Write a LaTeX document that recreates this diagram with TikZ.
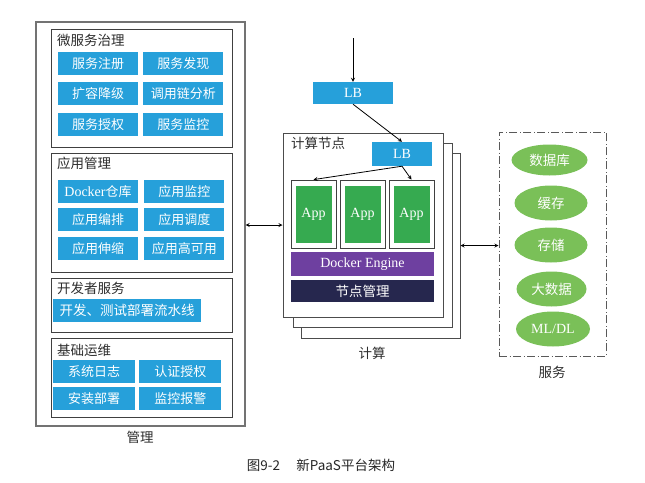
\documentclass[tikz,border=0pt]{standalone}
\usepackage{fontspec}
\setmainfont{Liberation Serif}
\newfontfamily\cjk{Noto Sans CJK SC}
\usepackage{xcolor}
\usetikzlibrary{shapes.geometric, arrows, positioning, calc}
\definecolor{svcblue}{RGB}{38,160,218}
\definecolor{appgreen}{RGB}{54,170,80}
\definecolor{ellgreen}{RGB}{122,192,88}
\definecolor{enginepurple}{RGB}{110,64,160}
\definecolor{nodenavy}{RGB}{38,39,78}
\definecolor{textgray}{RGB}{45,45,45}

\begin{document}
\begin{tikzpicture}[
    x=1pt, y=-1pt,
    panel/.style={rectangle, draw=black!75, line width=0.9pt, fill=white},
    outerbox/.style={rectangle, draw=black!55, line width=1.2pt},
    card/.style={rectangle, draw=black!70, line width=1pt, fill=white},
    title/.style={anchor=west, inner sep=0pt, text=textgray, font=\cjk\fontsize{13.5}{15}\selectfont},
    label/.style={inner sep=0pt, text=textgray, font=\cjk\fontsize{13.5}{15}\selectfont},
    svcbox/.style={rectangle, fill=svcblue, minimum width=80pt, minimum height=23pt, inner sep=0pt, text=white, font=\cjk\fontsize{13}{15}\selectfont},
    latinbox/.style={rectangle, inner sep=0pt, text=white, font=\fontsize{14}{16}\selectfont},
    appframe/.style={rectangle, draw=black!75, line width=0.8pt, fill=white, minimum width=45pt, minimum height=68pt},
    appbox/.style={latinbox, fill=appgreen, minimum width=36pt, minimum height=57pt},
    store/.style={ellipse, fill=ellgreen, minimum width=73pt, minimum height=35pt, inner sep=0pt, text=white, font=\cjk\fontsize{13.5}{15}\selectfont},
    arrow/.style={->, >=stealth, line width=0.8pt},
    dblarrow/.style={<->, >=stealth, line width=0.8pt}
]
\useasboundingbox (0,0) rectangle (645,482);

% 管理
\node[outerbox, minimum width=209pt, minimum height=404pt] (mgmt) at (140.5,224) {};
\node[label] (mgmtlabel) at (140,437) {管理};

\node[panel, minimum width=181pt, minimum height=118pt] (ms) at (141.5,88) {};
\node[title] (mstitle) at (57,40) {微服务治理};
\node[svcbox] (reg) at (98,63.5) {服务注册};
\node[svcbox, right=5pt of reg] (disc) {服务发现};
\node[svcbox, below=7pt of reg] (scale) {扩容降级};
\node[svcbox, right=5pt of scale] (trace) {调用链分析};
\node[svcbox, below=7pt of scale] (auth) {服务授权};
\node[svcbox, right=5pt of auth] (mon) {服务监控};

\node[panel, minimum width=181pt, minimum height=119pt] (apps) at (141.5,212.5) {};
\node[title] (appstitle) at (57,163) {应用管理};
\node[svcbox] (repo) at (98,191.5) {{\rmfamily\fontsize{14}{16}\selectfont Docker}仓库};
\node[svcbox, right=6pt of repo] (appmon) {应用监控};
\node[svcbox, below=5pt of repo] (orch) {应用编排};
\node[svcbox, right=6pt of orch] (sched) {应用调度};
\node[svcbox, below=5pt of orch] (elastic) {应用伸缩};
\node[svcbox, right=6pt of elastic] (ha) {应用高可用};

\node[panel, minimum width=181pt, minimum height=54pt] (dev) at (141.5,305) {};
\node[title] (devtitle) at (57,288) {开发者服务};
\node[svcbox, minimum width=148pt, font=\cjk\fontsize{13.5}{15}\selectfont] (pipe) at (127,310.5) {开发、测试部署流水线};

\node[panel, minimum width=181pt, minimum height=79pt] (ops) at (141.5,377.5) {};
\node[title] (opstitle) at (57,350) {基础运维};
\node[svcbox, minimum width=82pt] (log) at (94,371.5) {系统日志};
\node[svcbox, minimum width=82pt, right=4pt of log] (iam) {认证授权};
\node[svcbox, minimum width=82pt, below=4pt of log] (deploy) {安装部署};
\node[svcbox, minimum width=82pt, right=4pt of deploy] (alarm) {监控报警};

% 计算
\node[card, minimum width=159pt, minimum height=185pt] (card3) at (380.5,245.5) {};
\node[card, minimum width=159pt, minimum height=184pt] (card2) at (372.5,235) {};
\node[card, minimum width=160pt, minimum height=184pt] (card1) at (363,225) {};
\node[title] (cardtitle) at (291,143) {计算节点};
\node[label] (computelabel) at (372,353) {计算};

\coordinate (entry) at (353,38);
\node[latinbox, fill=svcblue, minimum width=80pt, minimum height=22pt] (lb) at (353,93) {LB};
\node[latinbox, fill=svcblue, minimum width=60pt, minimum height=24pt] (ilb) at (402,154) {LB};

\foreach \i/\x in {1/313.5, 2/362.5, 3/411.5} {
    \node[appframe] (frame\i) at (\x,214) {};
    \node[appbox] (app\i) at (\x,214) {App};
}
\node[latinbox, fill=enginepurple, minimum width=143pt, minimum height=24pt] (engine) at (362.5,264) {Docker Engine};
\node[latinbox, fill=nodenavy, minimum width=143pt, minimum height=22pt, font=\cjk\fontsize{13.5}{15}\selectfont] (nodemgr) at (362.5,291) {节点管理};

% 服务
\node[rectangle, draw=black!65, line width=1pt, dash pattern=on 8pt off 2.5pt on 1pt off 2.5pt, minimum width=107pt, minimum height=224pt] (svc) at (552.5,244) {};
\node[store, minimum width=76pt, minimum height=31pt] (db) at (549.5,160) {数据库};
\node[store] (cache) at (551,203) {缓存};
\node[store] (storage) at (551,245) {存储};
\node[store, minimum width=70pt] (bigdata) at (551.5,289) {大数据};
\node[store, minimum width=74pt, font=\fontsize{14}{16}\selectfont] (ml) at (553,329) {ML/DL};
\node[label] (svclabel) at (552,372) {服务};

% connectors
\draw[arrow] (entry) -- (lb.north);
\draw[arrow] (lb.south) -- (ilb.north);
\draw[arrow] (ilb.south) -- (frame1.north);
\draw[arrow] (ilb.south) -- (frame3.north);
\draw[dblarrow] (mgmt.east |- card1.west) -- (card1.west);
\draw[dblarrow] (card3.east) -- (card3.east -| svc.west);

% caption
\node[inner sep=0pt, text=black!85, font=\cjk\fontsize{13.5}{15}\selectfont] (caption) at (321,465) {图9-2\hspace{1.2em}新PaaS平台架构};
\end{tikzpicture}
\end{document}
